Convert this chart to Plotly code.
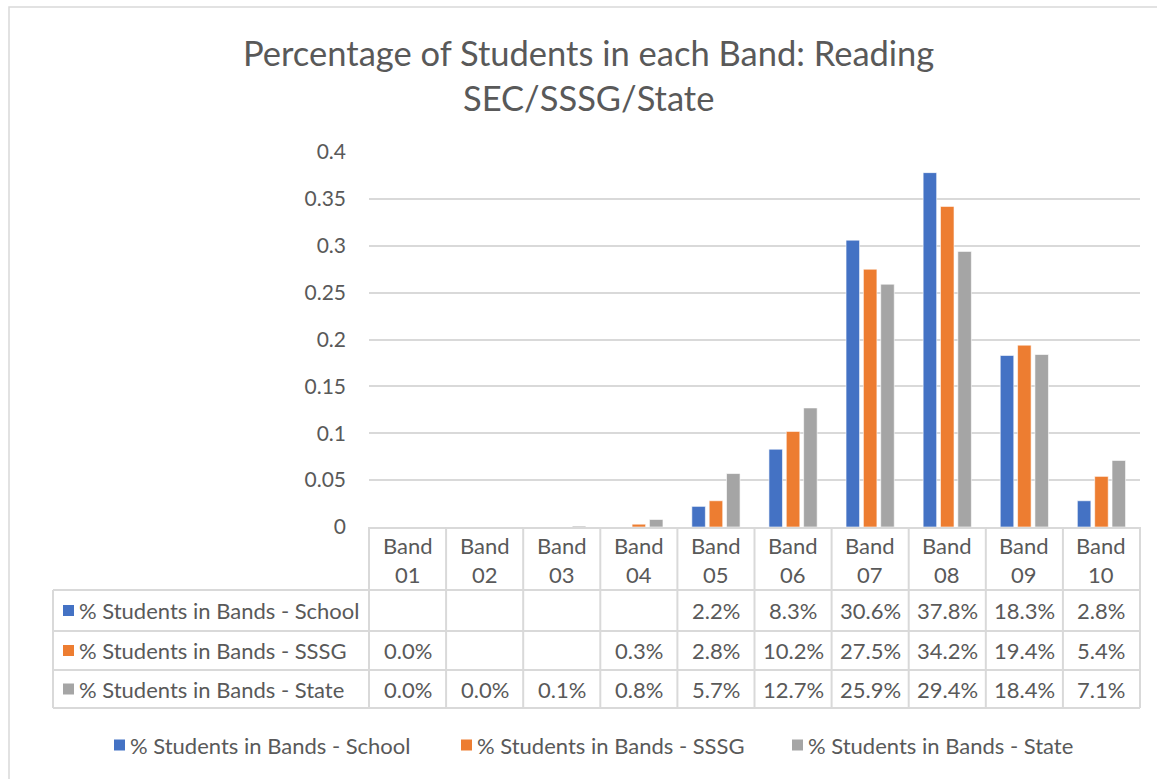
import plotly.graph_objects as go

# Reading bands and share of students per band (fractions; None = no students)
bands = ["Band 01", "Band 02", "Band 03", "Band 04", "Band 05",
         "Band 06", "Band 07", "Band 08", "Band 09", "Band 10"]
school = [None, None, None, None, 0.022, 0.083, 0.306, 0.378, 0.183, 0.028]
sssg = [0.000, None, None, 0.003, 0.028, 0.102, 0.275, 0.342, 0.194, 0.054]
state = [0.000, 0.000, 0.001, 0.008, 0.057, 0.127, 0.259, 0.294, 0.184, 0.071]

series_names = ["% Students in Bands - School",
                "% Students in Bands - SSSG",
                "% Students in Bands - State"]
series_values = [school, sssg, state]
series_colors = ["#4472C4", "#ED7D31", "#A5A5A5"]

W, H = 1157, 779
FONT = "Lato"
TXT = "#595959"
GRID = "#D9D9D9"
FS = 22


def px(x):
    return x / W


def py(y):
    return 1 - y / H


# Plot area and data-table geometry (pixels)
PLOT_L, PLOT_R = 369, 1140
PLOT_T, PLOT_B = 152, 527
TABLE_L = 53
ROW_LINES = [590, 631, 670, 708]
LEGEND_Y = 745
LEGEND_KEYS_X = [114, 461, 792]

fig = go.Figure()
for name, vals, col in zip(series_names, series_values, series_colors):
    fig.add_trace(go.Bar(
        x=bands, y=vals, name=name, showlegend=False,
        marker=dict(color=col, line=dict(color="white", width=0.6)),
    ))

shapes = []
# outer chart border
shapes.append(dict(type="rect", xref="paper", yref="paper",
                   x0=px(9), x1=px(1170), y0=py(7), y1=py(800),
                   line=dict(color="#D9D9D9", width=1.5)))
# table: horizontal rules
shapes.append(dict(type="line", xref="paper", yref="paper",
                   x0=px(PLOT_L), x1=px(PLOT_R), y0=py(PLOT_B + 1), y1=py(PLOT_B + 1),
                   line=dict(color=GRID, width=2)))
for yl in ROW_LINES:
    shapes.append(dict(type="line", xref="paper", yref="paper",
                       x0=px(TABLE_L), x1=px(PLOT_R), y0=py(yl), y1=py(yl),
                       line=dict(color=GRID, width=2)))
# table: vertical rules
shapes.append(dict(type="line", xref="paper", yref="paper",
                   x0=px(TABLE_L), x1=px(TABLE_L), y0=py(ROW_LINES[0]), y1=py(ROW_LINES[-1]),
                   line=dict(color=GRID, width=2)))
col_w = (PLOT_R - PLOT_L) / len(bands)
for i in range(len(bands) + 1):
    xl = PLOT_L + i * col_w
    shapes.append(dict(type="line", xref="paper", yref="paper",
                       x0=px(xl), x1=px(xl), y0=py(PLOT_B), y1=py(ROW_LINES[-1]),
                       line=dict(color=GRID, width=2)))

annotations = []
# title
annotations.append(dict(xref="paper", yref="paper", x=px(589), y=py(75),
                        text="Percentage of Students in each Band: Reading<br>SEC/SSSG/State",
                        showarrow=False, xanchor="center", yanchor="middle",
                        font=dict(family=FONT, size=34.5, color=TXT)))
# category header row
for i, b in enumerate(bands):
    cx = PLOT_L + (i + 0.5) * col_w
    word, num = b.split(" ")
    annotations.append(dict(xref="paper", yref="paper", x=px(cx), y=py(560),
                            text=f"{word}<br>{num}", showarrow=False,
                            xanchor="center", yanchor="middle",
                            font=dict(family=FONT, size=FS, color=TXT)))
# series rows with legend keys
for r, (name, vals, col) in enumerate(zip(series_names, series_values, series_colors)):
    top, bot = ROW_LINES[r], ROW_LINES[r + 1]
    cy = (top + bot) / 2
    shapes.append(dict(type="rect", xref="paper", yref="paper",
                       x0=px(63), x1=px(74), y0=py(cy - 5.5), y1=py(cy + 5.5),
                       fillcolor=col, line=dict(width=0)))
    annotations.append(dict(xref="paper", yref="paper", x=px(77), y=py(cy),
                            text=name, showarrow=False,
                            xanchor="left", yanchor="middle",
                            font=dict(family=FONT, size=FS, color=TXT)))
    for i, v in enumerate(vals):
        if v is None:
            continue
        cx = PLOT_L + (i + 0.5) * col_w
        annotations.append(dict(xref="paper", yref="paper", x=px(cx), y=py(cy),
                                text=f"{v:.1%}", showarrow=False,
                                xanchor="center", yanchor="middle",
                                font=dict(family=FONT, size=FS, color=TXT)))

# legend below the table
for kx, name, col in zip(LEGEND_KEYS_X, series_names, series_colors):
    shapes.append(dict(type="rect", xref="paper", yref="paper",
                       x0=px(kx), x1=px(kx + 11), y0=py(LEGEND_Y - 5.5), y1=py(LEGEND_Y + 5.5),
                       fillcolor=col, line=dict(width=0)))
    annotations.append(dict(xref="paper", yref="paper", x=px(kx + 14), y=py(LEGEND_Y),
                            text=name, showarrow=False,
                            xanchor="left", yanchor="middle",
                            font=dict(family=FONT, size=FS, color=TXT)))

fig.update_layout(
    width=W, height=H,
    margin=dict(l=0, r=0, t=0, b=0, autoexpand=False),
    paper_bgcolor="white", plot_bgcolor="white",
    barmode="group", bargap=0.325, bargroupgap=0.22,
    showlegend=False,
    font=dict(family=FONT, color=TXT),
    xaxis=dict(domain=[px(PLOT_L), px(PLOT_R)], showticklabels=False,
               showgrid=False, zeroline=False, showline=False, fixedrange=True,
               automargin=False),
    yaxis=dict(domain=[py(PLOT_B), py(PLOT_T)], range=[0, 0.4], dtick=0.05,
               showgrid=True, gridcolor=GRID, gridwidth=1.5,
               zeroline=False, showline=False, ticks="", automargin=False,
               ticklabelstandoff=22,
               tickfont=dict(family=FONT, size=21, color=TXT)),
    shapes=shapes, annotations=annotations,
)

fig.write_html("out.html")
